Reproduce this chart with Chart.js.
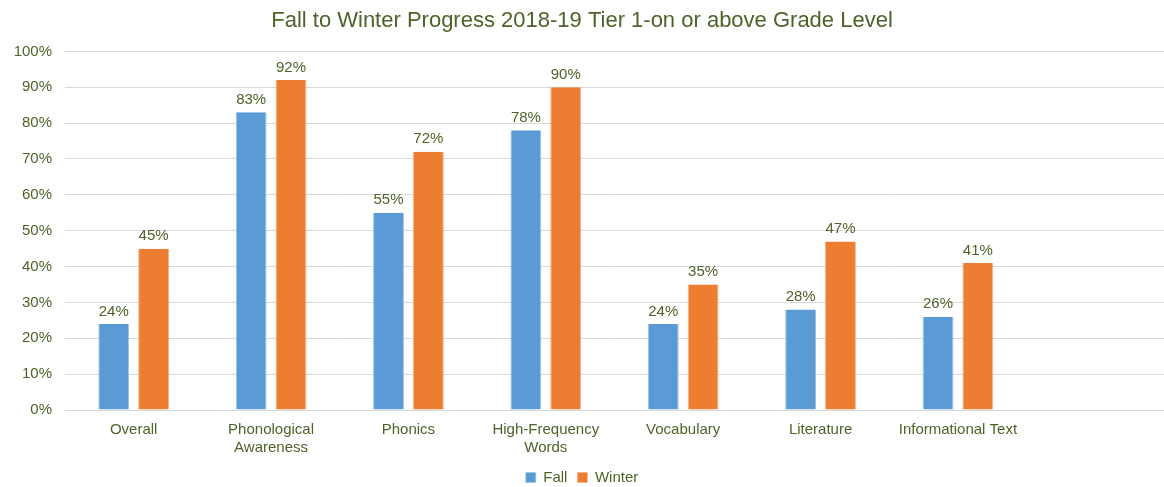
<!DOCTYPE html>
<html>
<head>
<meta charset="utf-8">
<script src="https://cdn.jsdelivr.net/npm/chart.js@4/dist/chart.umd.min.js"></script>
<style>
  html, body { margin: 0; padding: 0; background: #fff; }
  #wrap { width: 1164px; height: 487px; }
</style>
</head>
<body>
<div id="wrap"><canvas id="c"></canvas></div>
<script>
var categories = ['Overall', ['Phonological', 'Awareness'], 'Phonics', ['High-Frequency', 'Words'], 'Vocabulary', 'Literature', 'Informational Text', ''];
var fallValues = [24, 83, 55, 78, 24, 28, 26, null];
var winterValues = [45, 92, 72, 90, 35, 47, 41, null];
var yTicks = [0, 10, 20, 30, 40, 50, 60, 70, 80, 90, 100];

var green = '#4f6228';
Chart.defaults.font.family = '"Liberation Sans", Arial, sans-serif';

var valueLabels = {
  id: 'valueLabels',
  afterDatasetsDraw: function(chart) {
    var ctx = chart.ctx;
    ctx.save();
    ctx.font = '15px "Liberation Sans", Arial, sans-serif';
    ctx.fillStyle = green;
    ctx.textAlign = 'center';
    ctx.textBaseline = 'bottom';
    chart.data.datasets.forEach(function(ds, i) {
      chart.getDatasetMeta(i).data.forEach(function(bar, j) {
        if (ds.data[j] == null) return;
        ctx.fillText(ds.data[j] + '%', bar.x, bar.y - 5);
      });
    });
    ctx.restore();
  }
};

new Chart(document.getElementById('c'), {
  type: 'bar',
  data: {
    labels: categories,
    datasets: [
      {label: 'Fall', data: fallValues, backgroundColor: '#5b9bd5', borderColor: '#9cc3e6', borderWidth: {left: 1, right: 1, top: 0, bottom: 0}, categoryPercentage: 0.58, barPercentage: 0.775},
      {label: 'Winter', data: winterValues, backgroundColor: '#ed7d31', borderColor: '#f4b183', borderWidth: {left: 1, right: 1, top: 0, bottom: 0}, categoryPercentage: 0.58, barPercentage: 0.775}
    ]
  },
  plugins: [valueLabels],
  options: {
    responsive: true,
    maintainAspectRatio: false,
    animation: false,
    layout: {padding: {left: 0, right: 0, top: 0, bottom: 0}},
    plugins: {
      title: {display: true, text: 'Fall to Winter Progress 2018-19 Tier 1-on or above Grade Level', color: green, font: {size: 22, weight: 'normal'}, padding: {top: 8, bottom: 17}},
      legend: {position: 'bottom', maxHeight: 27, labels: {color: green, font: {size: 15}, boxWidth: 10, boxHeight: 10, padding: 10}},
      tooltip: {enabled: false}
    },
    scales: {
      x: {
        grid: {display: false},
        border: {color: '#d9d9d9'},
        ticks: {color: green, font: {size: 15}, maxRotation: 0, autoSkip: false, padding: 3}
      },
      y: {
        min: 0, max: 100,
        afterBuildTicks: function(axis) { axis.ticks = yTicks.map(function(v) { return {value: v}; }); },
        afterFit: function(axis) { axis.width = 65; },
        grid: {color: '#d9d9d9', drawTicks: false},
        border: {display: false},
        ticks: {color: green, font: {size: 15}, padding: 13, callback: function(v) { return v + '%'; }}
      }
    }
  }
});
</script>
</body>
</html>
